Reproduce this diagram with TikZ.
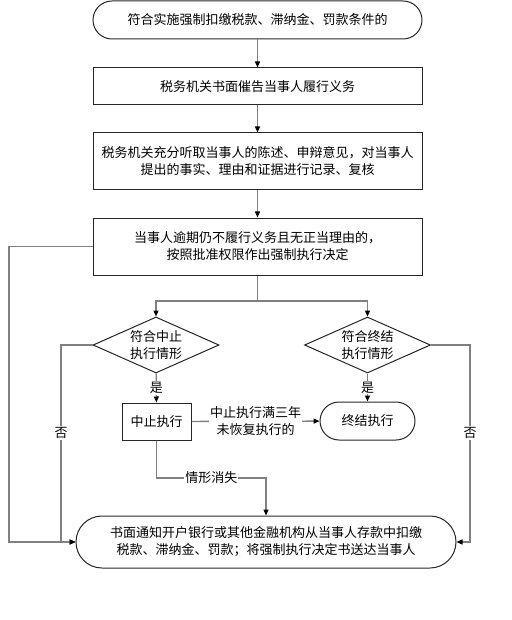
\documentclass[tikz,border=0pt]{standalone}
\usepackage{fontspec}
\setmainfont{Noto Sans CJK SC}
\usetikzlibrary{positioning}
\usetikzlibrary{shapes.geometric}
\usetikzlibrary{arrows.meta}

\begin{document}
\begin{tikzpicture}[x = 1pt, y = -1pt,
  every node/.style = {font = \fontsize{13}{17}\selectfont},
  box/.style = {draw = black!85, line width = 1pt, align = center, inner sep = 0pt, minimum width = 329pt},
  term/.style = {box, rounded corners = 19pt},
  test/.style = {draw = black!85, line width = 1pt, diamond, aspect = 2.25, inner sep = 0pt, minimum width = 126pt, minimum height = 56pt, align = center},
  flow/.style = {draw = black!50, line width = 1.3pt, -{Triangle[length = 6pt, width = 5pt, color = black]}},
  tag/.style = {fill = white, inner sep = 1pt, align = center}]
\useasboundingbox (0, 0) rectangle (511, 620);

\node[term, minimum height = 38pt] (start) at (257.5, 20) {符合实施强制扣缴税款、滞纳金、罚款条件的};
\node[box, minimum height = 37pt] (notice) at (257.5, 86.5) {税务机关书面催告当事人履行义务};
\node[box, minimum height = 57pt] (hear) at (257.5, 161.5) {税务机关充分听取当事人的陈述、申辩意见，对当事人\\提出的事实、理由和证据进行记录、复核};
\node[box, minimum height = 57pt] (decide) at (257.5, 246.5) {当事人逾期仍不履行义务且无正当理由的，\\按照批准权限作出强制执行决定};
\coordinate (split) at (257.5, 301);

\node[test] (pause) at (156, 345) {符合中止\\执行情形};
\node[test] (stop) at (367.5, 345) {符合终结\\执行情形};
\node[box, minimum width = 69pt, minimum height = 37pt] (paused) at (156.5, 421.5) {中止执行};
\node[term, minimum width = 95pt, minimum height = 38pt] (ended) at (367.5, 421) {终结执行};
\node[term, rounded corners = 26pt, minimum width = 380pt, minimum height = 52pt] (deduct) at (266, 542) {书面通知开户银行或其他金融机构从当事人存款中扣缴\\税款、滞纳金、罚款；将强制执行决定书送达当事人};

\coordinate (rim) at (9, 542);
\coordinate (noleft) at (61, 542);
\coordinate (noright) at (470, 542);
\coordinate (bend) at (156.5, 478);

\draw[flow] (start) -- (notice);
\draw[flow] (notice) -- (hear);
\draw[flow] (hear) -- (decide);
\draw[flow] (decide) -- (split) -| (pause);
\draw[flow] (split) -| (stop);
\draw[flow] (decide.west) -| (rim) -- (deduct.west);
\draw[flow] (pause.west) -| (noleft) -- (deduct.west);
\draw[flow] (stop.east) -| (noright) -- (deduct.east);
\draw[flow] (pause) -- node[tag] {是} (paused);
\draw[flow] (stop) -- node[tag] {是} (ended);
\draw[flow] (paused) -- node[tag] {中止执行满三年\\未恢复执行的} (ended);
\draw[flow] (paused) -- (bend) -| node[tag, pos = 0.25] {情形消失} (deduct);

\node[tag] at (61, 433) {否};
\node[tag] at (470, 433) {否};
\end{tikzpicture}
\end{document}
